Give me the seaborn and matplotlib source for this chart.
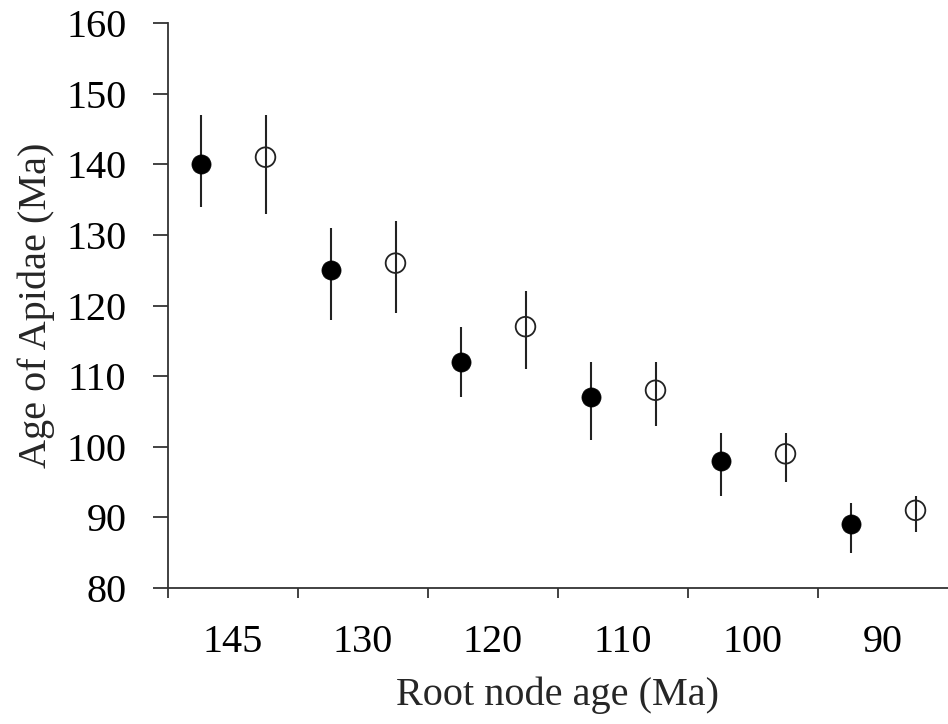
import matplotlib
matplotlib.use("Agg")
import matplotlib.pyplot as plt
import seaborn as sns
import pandas as pd
import numpy as np

categories = ["145", "130", "120", "110", "100", "90"]
filled_age = [140, 125, 112, 107, 98, 89]
filled_lo = [134, 118, 107, 101, 93, 85]
filled_hi = [147, 131, 117, 112, 102, 92]
open_age = [141, 126, 117, 108, 99, 91]
open_lo = [133, 119, 111, 103, 95, 88]
open_hi = [147, 132, 122, 112, 102, 93]

sns.set_theme(style="ticks")
plt.rcParams["font.family"] = ["Liberation Serif", "DejaVu Serif"]

rows = []
for i, c in enumerate(categories):
    rows.append(dict(cat=c, idx=i, series="filled", age=filled_age[i], lo=filled_lo[i], hi=filled_hi[i]))
    rows.append(dict(cat=c, idx=i, series="open", age=open_age[i], lo=open_lo[i], hi=open_hi[i]))
df = pd.DataFrame(rows)
offsets = {"filled": -0.25, "open": 0.25}
df["xpos"] = df["idx"] + df["series"].map(offsets)

fig = plt.figure(figsize=(9.48, 7.24), dpi=100)
ax = fig.add_axes([168 / 948, 136 / 724, 780 / 948, 565 / 724])

# error bars
ax.vlines(df["xpos"], df["lo"], df["hi"], color="#222222", linewidth=1.5, zorder=2)

f = df[df["series"] == "filled"]
o = df[df["series"] == "open"]
sns.scatterplot(data=f, x="xpos", y="age", ax=ax, color="black", s=190,
                edgecolor="black", linewidth=0.5, zorder=3, legend=False)
sns.scatterplot(data=o, x="xpos", y="age", ax=ax, facecolor="none", s=200,
                edgecolor="#222222", linewidth=1.3, zorder=3, legend=False)

ax.set_xlim(-0.5, len(categories) - 0.5)
ax.set_ylim(80, 160)
ax.set_yticks(np.arange(80, 161, 10))

ax.set_xticks(np.arange(len(categories)))
ax.set_xticklabels(categories)
ax.set_xticks(np.arange(len(categories)) - 0.5, minor=True)
ax.tick_params(axis="x", which="major", length=0, pad=26, labelsize=29, colors="black")
ax.tick_params(axis="x", which="minor", length=7, width=1.3, color="#333333")
ax.tick_params(axis="y", which="major", length=11, width=1.3, color="#333333",
               pad=19, labelsize=29, labelcolor="black")

for s in ["top", "right"]:
    ax.spines[s].set_visible(False)
for s in ["left", "bottom"]:
    ax.spines[s].set_color("#333333")
    ax.spines[s].set_linewidth(1.3)

ax.set_xlabel("Root node age (Ma)", fontsize=29, labelpad=11)
ax.set_ylabel("Age of Apidae (Ma)", fontsize=29, labelpad=8)

fig.savefig("out.png", dpi=100)
